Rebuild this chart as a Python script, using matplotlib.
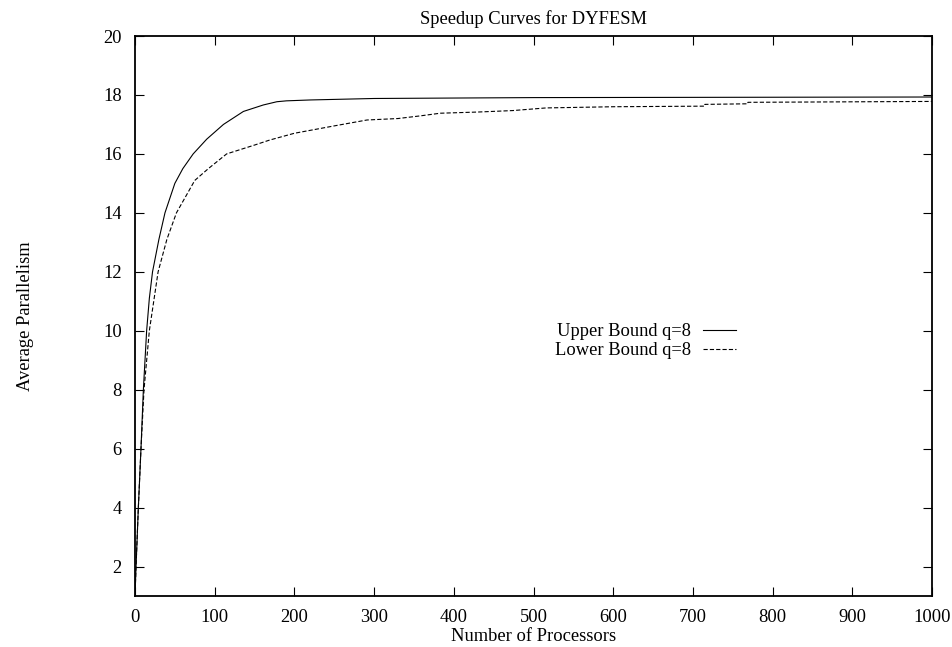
import matplotlib
matplotlib.use("Agg")
import matplotlib.pyplot as plt

# values
upper_x = [0, 1.3, 4.2, 7.5, 10.5, 14.6, 18, 22, 30, 37.6, 50, 60, 73, 90, 111, 136, 161, 178, 190, 220, 300, 500, 1000]
upper_y = [1, 2, 4, 6, 8, 10, 11.1, 12, 13.1, 14, 15, 15.5, 16, 16.5, 17.0, 17.44, 17.66, 17.77, 17.8, 17.83, 17.88, 17.91, 17.93]

lower_x = [0, 1.3, 4.2, 7.5, 11.3, 18, 29, 40, 52, 75, 92, 115, 150, 169, 200, 250, 291, 330,
           358, 383, 430, 474, 516, 600, 715, 715, 769, 769, 1000]
lower_y = [1, 2, 4, 6, 8, 10, 12, 13.1, 14, 15.1, 15.5, 16.0, 16.3, 16.47, 16.7, 16.95, 17.15, 17.2,
           17.29, 17.38, 17.42, 17.47, 17.56, 17.6, 17.62, 17.68, 17.7, 17.75, 17.78]

x_ticks = [0, 100, 200, 300, 400, 500, 600, 700, 800, 900, 1000]
y_ticks = [2, 4, 6, 8, 10, 12, 14, 16, 18, 20]

plt.rcParams["font.family"] = ["Liberation Serif", "DejaVu Serif"]
plt.rcParams["font.size"] = 13.3

fig = plt.figure(figsize=(9.53, 6.47), dpi=100)
ax = fig.add_axes([135 / 953, 1 - 596 / 647, (932 - 135) / 953, (596 - 36) / 647])

ax.plot(upper_x, upper_y, color="black", lw=0.8, label="Upper Bound q=8")
ax.plot(lower_x, lower_y, color="black", lw=0.8, linestyle=(0, (3.8, 1.9)), label="Lower Bound q=8")

ax.set_xlim(0, 1000)
ax.set_ylim(1, 20)
ax.set_xticks(x_ticks)
ax.set_yticks(y_ticks)
ax.tick_params(direction="in", length=6.5, width=0.8, top=True, right=True, pad=9.5)
for s in ax.spines.values():
    s.set_linewidth(1.3)

ax.set_title("Speedup Curves for DYFESM", fontsize=13.3, pad=9)
ax.set_xlabel("Number of Processors", labelpad=1)
ax.set_ylabel("Average Parallelism", labelpad=50)

ax.legend(loc="center right", bbox_to_anchor=(0.754, 0.455), frameon=False, markerfirst=False,
          handlelength=1.8, borderpad=0, borderaxespad=0, labelspacing=0.12, handletextpad=0.65)

fig.savefig("out.png", dpi=100)
